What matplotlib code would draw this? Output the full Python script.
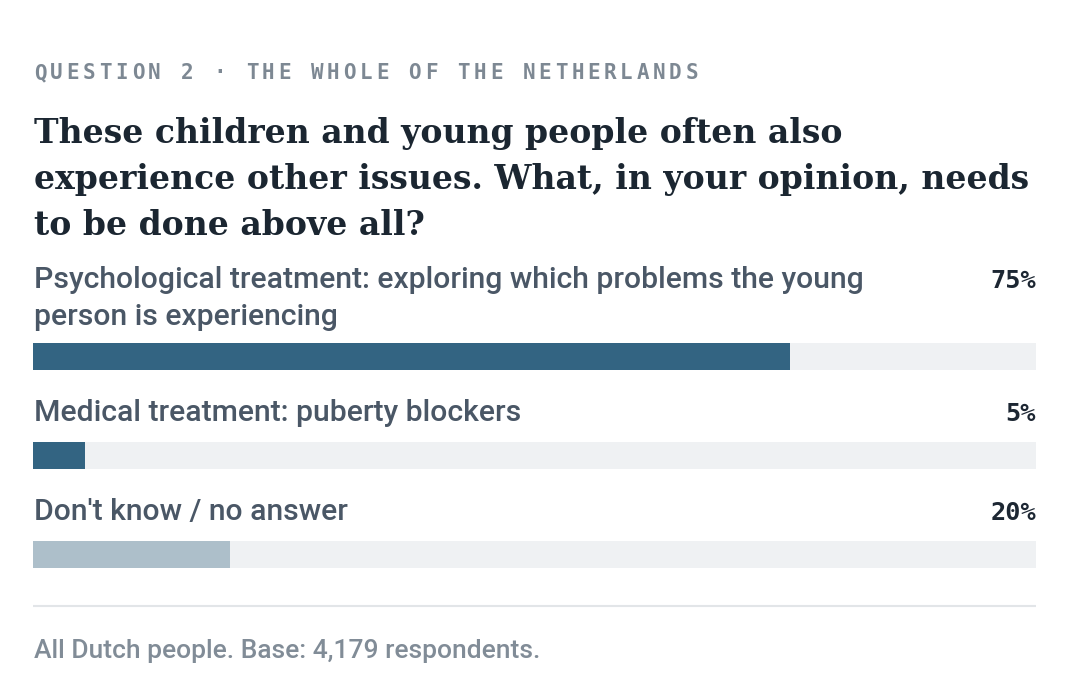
import matplotlib
matplotlib.use('Agg')
import matplotlib.pyplot as plt

# ---- data ----
header = "QUESTION 2 · THE WHOLE OF THE NETHERLANDS"
title_lines = [
    "These children and young people often also",
    "experience other issues. What, in your opinion, needs",
    "to be done above all?",
]
categories = [
    ["Psychological treatment: exploring which problems the young",
     "person is experiencing"],
    ["Medical treatment: puberty blockers"],
    ["Don't know / no answer"],
]
values = [75.5, 5.2, 19.6]          # bar lengths
pct_labels = ["75%", "5%", "20%"]
footer = "All Dutch people. Base: 4,179 respondents."

# ---- style ----
W, H = 1070, 692
bar_colors = ['#336482', '#336482', '#adbfca']
track_color = '#eff1f3'
header_color = '#7d8893'
title_color = '#1b2631'
label_color = '#4a5766'
pct_color = '#1d2733'
footer_color = '#818c97'

fig = plt.figure(figsize=(W / 100, H / 100), dpi=100)
fig.patch.set_facecolor('white')
renderer = fig.canvas.get_renderer()

# overlay axes in pixel coordinates for text
ax0 = fig.add_axes([0, 0, 1, 1])
ax0.set_xlim(0, W)
ax0.set_ylim(H, 0)
ax0.axis('off')

def fit(t, target):
    w = t.get_window_extent(renderer).width
    t.set_fontsize(t.get_fontsize() * target / w)
    return t.get_fontsize()

# header with letter spacing
x_left = 34
pitch = 16.28
for i, ch in enumerate(header):
    ax0.text(x_left + i * pitch, 79, ch, family='DejaVu Sans Mono', weight='bold',
             fontsize=15, color=header_color, va='baseline', ha='left')

# title
title_base = [143, 189, 235]
tt = [ax0.text(34, b, s, family='DejaVu Serif', weight='bold', fontsize=22,
               color=title_color, va='baseline', ha='left')
      for s, b in zip(title_lines, title_base)]
ts = fit(tt[1], 992)
for t in tt:
    t.set_fontsize(ts)

# labels
label_base = [[288, 325], [421], [520]]
lab_texts = []
for lines, bases in zip(categories, label_base):
    for s, b in zip(lines, bases):
        lab_texts.append(ax0.text(34, b, s, family='Roboto', weight=500, fontsize=18,
                                  color=label_color, va='baseline', ha='left'))
ls = fit(lab_texts[0], 831)
for t in lab_texts:
    t.set_fontsize(ls)

# percentage labels
pct_base = [288, 421, 520]
pts = [ax0.text(1036, b, s, family='DejaVu Sans Mono', weight='bold', fontsize=15,
                color=pct_color, va='baseline', ha='right')
       for s, b in zip(pct_labels, pct_base)]
ps = fit(pts[0], 46)
for t in pts:
    t.set_fontsize(ps)

# divider
ax0.plot([33, 1036], [605.5, 605.5], color='#e2e5e8', lw=1.5, solid_capstyle='butt')

# footer
ft = ax0.text(34, 658, footer, family='Roboto', weight=500, fontsize=16, color=footer_color,
              va='baseline', ha='left')
fit(ft, 506)

# bars axes: x in percent, y in pixels
axb = fig.add_axes([33 / W, 0, 1003 / W, 1])
axb.set_xlim(0, 100)
axb.set_ylim(H, 0)
axb.axis('off')
axb.patch.set_alpha(0)
centers = [356.5, 455.5, 554.5]
axb.barh(centers, [100] * len(values), height=27.5, color=track_color, left=0)
axb.barh(centers, values, height=27.5, color=bar_colors, left=0)

fig.savefig('out.png', dpi=100, facecolor='white')
